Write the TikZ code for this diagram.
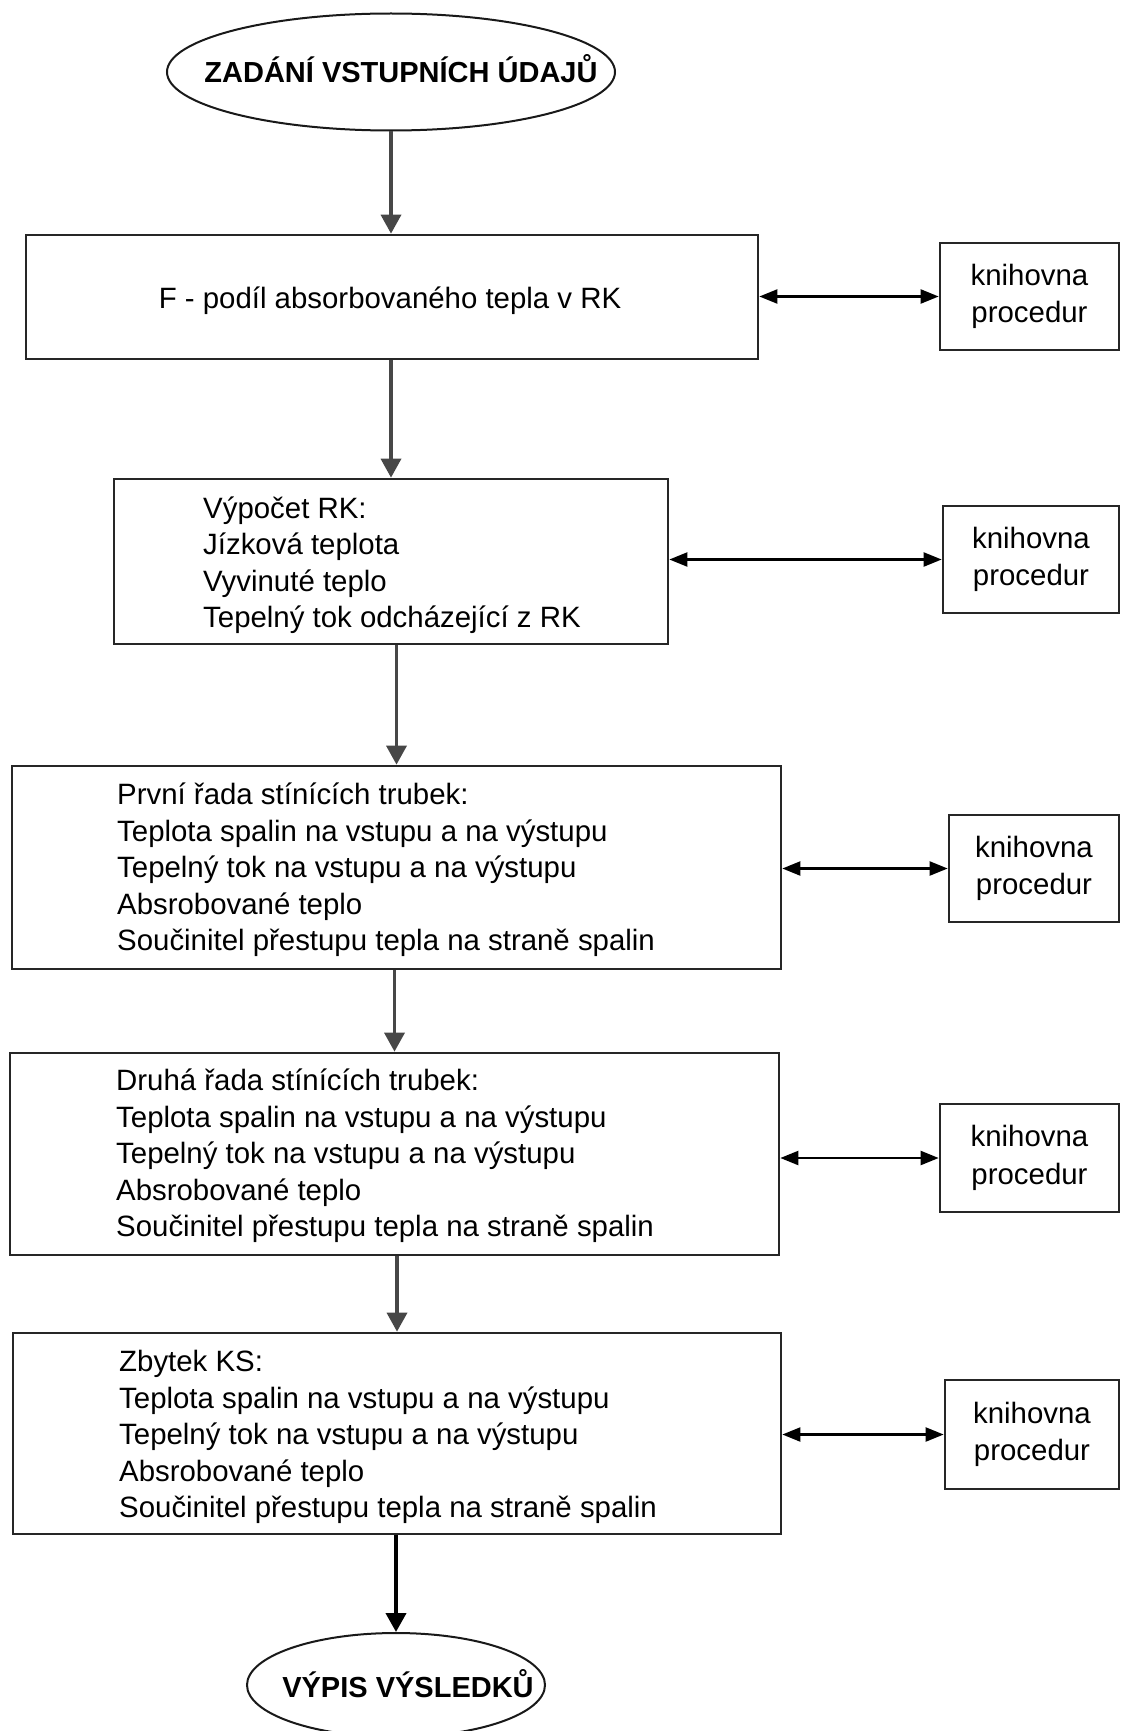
\documentclass[tikz,border=0pt]{standalone}
\usepackage{fontspec}
\setmainfont{Liberation Sans}
\usetikzlibrary{arrows.meta,shapes.geometric,calc}
\begin{document}
\begin{tikzpicture}[x=1pt,y=-1pt,
  every node/.style={font=\fontsize{29.4pt}{36.5pt}\selectfont},
  box/.style={draw=black!85, line width=2.7pt, rectangle, inner sep=0pt},
  lib/.style={box, align=center, font=\fontsize{29.4pt}{37.6pt}\selectfont},
  txt/.style={align=left, anchor=west, inner sep=0pt},
  ttl/.style={font=\fontsize{29pt}{35pt}\selectfont\bfseries, anchor=base, inner sep=0pt},
  oval/.style={draw=black!90, line width=2pt, ellipse, inner sep=0pt},
  varrow/.style={draw=black!72, line width=3.5pt, -{Triangle[length=19pt,width=20pt]}},
  harrow/.style={draw=black, line width=2.2pt, {Triangle[length=18pt,width=14pt]}-{Triangle[length=18pt,width=14pt]}},
]
\useasboundingbox[fill=white] (0,0) rectangle (1121,1731);

% start / end ovals
\node[oval, minimum width=448pt, minimum height=117pt] (s) at (391,72) {};
\node[ttl] (st) at (401,83) {ZADÁNÍ VSTUPNÍCH ÚDAJŮ};
\node[oval, minimum width=298pt, minimum height=104pt] (e) at (396,1685) {};
\node[ttl] (et) at (408,1697) {VÝPIS VÝSLEDKŮ};

% main boxes
\node[box, minimum width=732pt, minimum height=124pt] (b1) at (392,297) {};
\node[anchor=base, inner sep=0pt] (t1) at (390,308) {F - podíl absorbovaného tepla v RK};
\node[box, minimum width=554pt, minimum height=165pt] (b2) at (391,561.5) {};
\node[box, minimum width=769pt, minimum height=203pt] (b3) at (396.5,867.5) {};
\node[box, minimum width=769pt, minimum height=202pt] (b4) at (394.5,1154) {};
\node[box, minimum width=768pt, minimum height=201pt] (b5) at (397,1433.5) {};

\node[txt] (t2) at (203,565) {Výpočet RK:\\Jízková teplota\\Vyvinuté teplo\\Tepelný tok odcházející z RK};
\node[txt] (t3) at (117,870) {První řada stínících trubek:\\Teplota spalin na vstupu a na výstupu\\Tepelný tok na vstupu a na výstupu\\Absrobované teplo\\Součinitel přestupu tepla na straně spalin};
\node[txt] (t4) at (116,1156) {Druhá řada stínících trubek:\\Teplota spalin na vstupu a na výstupu\\Tepelný tok na vstupu a na výstupu\\Absrobované teplo\\Součinitel přestupu tepla na straně spalin};
\node[txt] (t5) at (119,1437) {Zbytek KS:\\Teplota spalin na vstupu a na výstupu\\Tepelný tok na vstupu a na výstupu\\Absrobované teplo\\Součinitel přestupu tepla na straně spalin};

% library boxes
\node[lib, minimum width=179pt, minimum height=107pt] (l1) at (1029.5,296.5) {knihovna\\procedur};
\node[lib, minimum width=176pt, minimum height=107pt] (l2) at (1031,559.5) {knihovna\\procedur};
\node[lib, minimum width=170pt, minimum height=107pt] (l3) at (1034,868.5) {knihovna\\procedur};
\node[lib, minimum width=179pt, minimum height=108pt] (l4) at (1029.5,1158) {knihovna\\procedur};
\node[lib, minimum width=174pt, minimum height=109pt] (l5) at (1032,1434.5) {knihovna\\procedur};

% vertical flow arrows
\draw[varrow] (s.south) -- (s.south |- b1.north);
\draw[varrow] (b1.south -| b2.north) -- (b2.north);
\draw[varrow] (b2.south -| b3.north) -- (b3.north);
\draw[varrow] (b3.south -| b4.north) -- (b4.north);
\draw[varrow] (b4.south -| b5.north) -- (b5.north);
\draw[varrow, draw=black, line width=4pt] (b5.south -| e.north) -- (e.north);

% library connectors
\draw[harrow] (l1.west -| b1.east) -- (l1.west);
\draw[harrow] (l2.west -| b2.east) -- (l2.west);
\draw[harrow] (l3.west -| b3.east) -- (l3.west);
\draw[harrow] (l4.west -| b4.east) -- (l4.west);
\draw[harrow] (l5.west -| b5.east) -- (l5.west);
\end{tikzpicture}
\end{document}
